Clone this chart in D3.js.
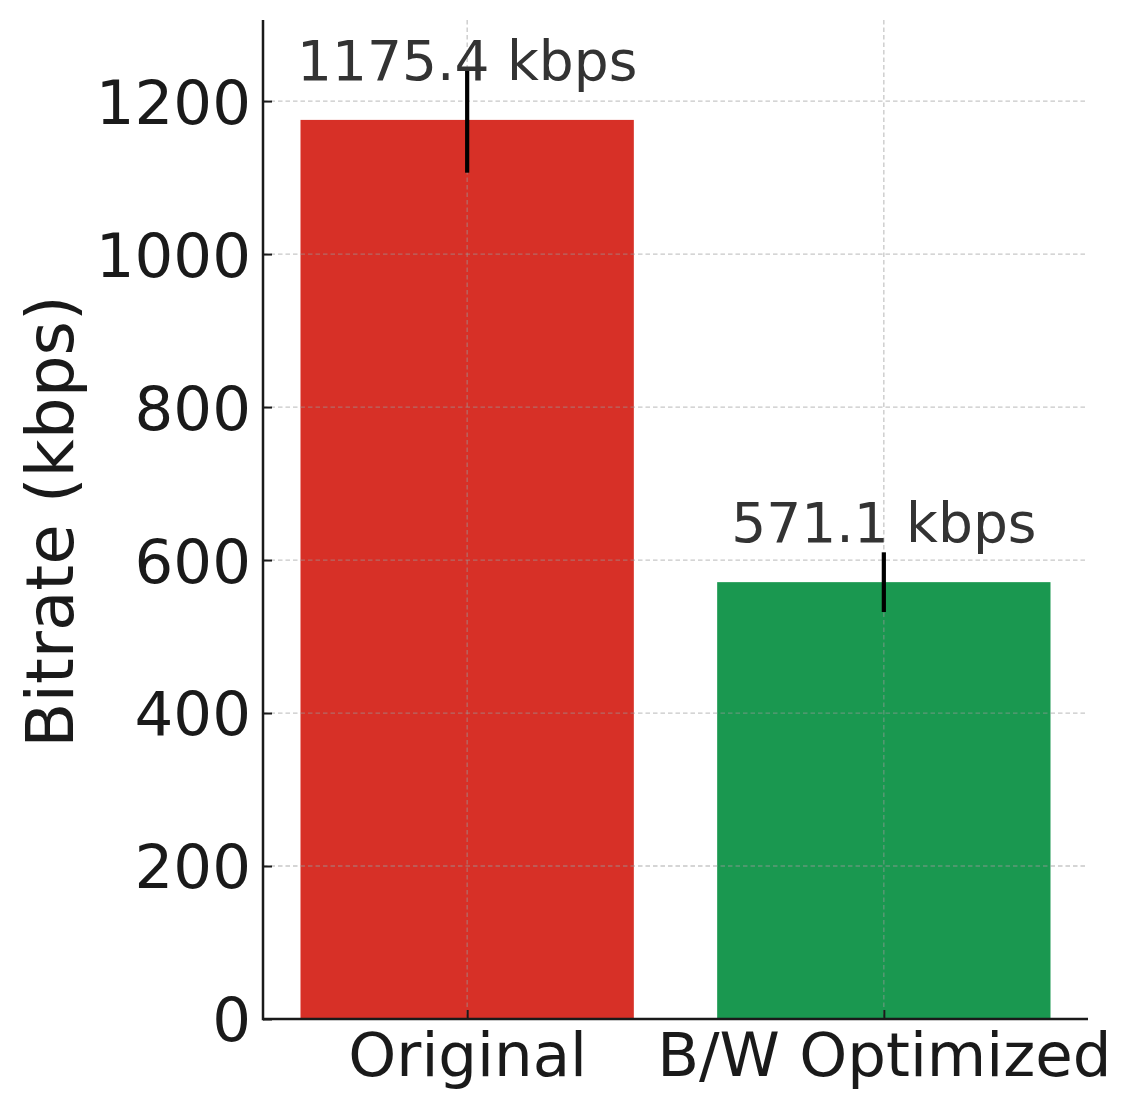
<!DOCTYPE html>
<html>
<head>
<meta charset="utf-8">
<script src="https://cdn.jsdelivr.net/npm/d3@7"></script>
<style>
  html, body { margin: 0; padding: 0; background: #fff; }
  svg { display: block; font-family: "DejaVu Sans", sans-serif; }
</style>
</head>
<body>
<svg id="chart" width="1131" height="1108"></svg>
<script>
const categories = ["Original", "B/W Optimized"];
const values = [1175.4, 571.1];
const errors = [69, 39];
const colors = ["#d73027", "#1a9850"];
const yTicks = [0, 200, 400, 600, 800, 1000, 1200];
const valueLabels = ["1175.4 kbps", "571.1 kbps"];

(function () {
const svg = d3.select("#chart");
const mLeft = 263, mRight = 1088, mTop = 20, mBottom = 1019;

const x = d3.scaleLinear().domain([-0.49, 1.49]).range([mLeft, mRight]);
const y = d3.scaleLinear().domain([0, 1306]).range([mBottom, mTop]);
const barW = x(0.4) - x(-0.4);

// bars
svg.append("g").selectAll("rect").data(values).join("rect")
  .attr("x", (d, i) => x(i) - barW / 2)
  .attr("y", d => y(d))
  .attr("width", barW)
  .attr("height", d => mBottom - y(d))
  .attr("fill", (d, i) => colors[i]);

// grid
const grid = svg.append("g").attr("stroke", "#999").attr("stroke-opacity", 0.55)
  .attr("stroke-width", 1.3).attr("stroke-dasharray", "4.5,3");
grid.selectAll(".gy").data(yTicks.filter(t => t > 0)).join("line")
  .attr("class", "gy")
  .attr("x1", mLeft).attr("x2", mRight)
  .attr("y1", d => y(d)).attr("y2", d => y(d));
grid.selectAll(".gx").data(categories).join("line")
  .attr("class", "gx")
  .attr("x1", (d, i) => x(i)).attr("x2", (d, i) => x(i))
  .attr("y1", mTop).attr("y2", mBottom);

// error bars
svg.append("g").selectAll("line").data(values).join("line")
  .attr("x1", (d, i) => x(i)).attr("x2", (d, i) => x(i))
  .attr("y1", (d, i) => y(d + errors[i]))
  .attr("y2", (d, i) => y(d - errors[i]))
  .attr("stroke", "#000").attr("stroke-width", 4.2);

// value labels
svg.append("g").selectAll("text").data(values).join("text")
  .attr("x", (d, i) => x(i))
  .attr("y", d => y(d) - 40)
  .attr("text-anchor", "middle")
  .attr("font-size", 55)
  .attr("fill", "#333")
  .text((d, i) => valueLabels[i]);

// y axis
const yAxis = d3.axisLeft(y).tickValues(yTicks).tickSizeInner(-9).tickSizeOuter(0).tickPadding(12)
  .tickFormat(d3.format("d"));
const gy = svg.append("g").attr("transform", `translate(${mLeft},0)`).call(yAxis);
gy.select(".domain").remove();
gy.selectAll(".tick line").attr("stroke", "#1a1a1a").attr("stroke-width", 2);
gy.selectAll(".tick text").attr("font-size", 61).attr("fill", "#1a1a1a")
  .attr("font-family", "DejaVu Sans").attr("dy", "0.36em");

// x axis
const xAxis = d3.axisBottom(x).tickValues([0, 1]).tickSizeInner(-9).tickSizeOuter(0).tickPadding(14)
  .tickFormat(i => categories[i]);
const gx = svg.append("g").attr("transform", `translate(0,${mBottom})`).call(xAxis);
gx.select(".domain").remove();
gx.selectAll(".tick line").attr("stroke", "#1a1a1a").attr("stroke-width", 2);
gx.selectAll(".tick text").attr("font-size", 61).attr("fill", "#1a1a1a")
  .attr("font-family", "DejaVu Sans").attr("dy", "0.71em");

// spines
svg.append("line").attr("x1", mLeft).attr("x2", mLeft).attr("y1", mTop).attr("y2", mBottom + 1.25)
  .attr("stroke", "#1a1a1a").attr("stroke-width", 2.5);
svg.append("line").attr("x1", mLeft).attr("x2", mRight).attr("y1", mBottom).attr("y2", mBottom)
  .attr("stroke", "#1a1a1a").attr("stroke-width", 2.5);

// y label
svg.append("text")
  .attr("transform", `translate(73,${(mTop + mBottom) / 2 + 2}) rotate(-90)`)
  .attr("text-anchor", "middle")
  .attr("font-size", 66)
  .attr("fill", "#1a1a1a")
  .text("Bitrate (kbps)");
})();
</script>
</body>
</html>
